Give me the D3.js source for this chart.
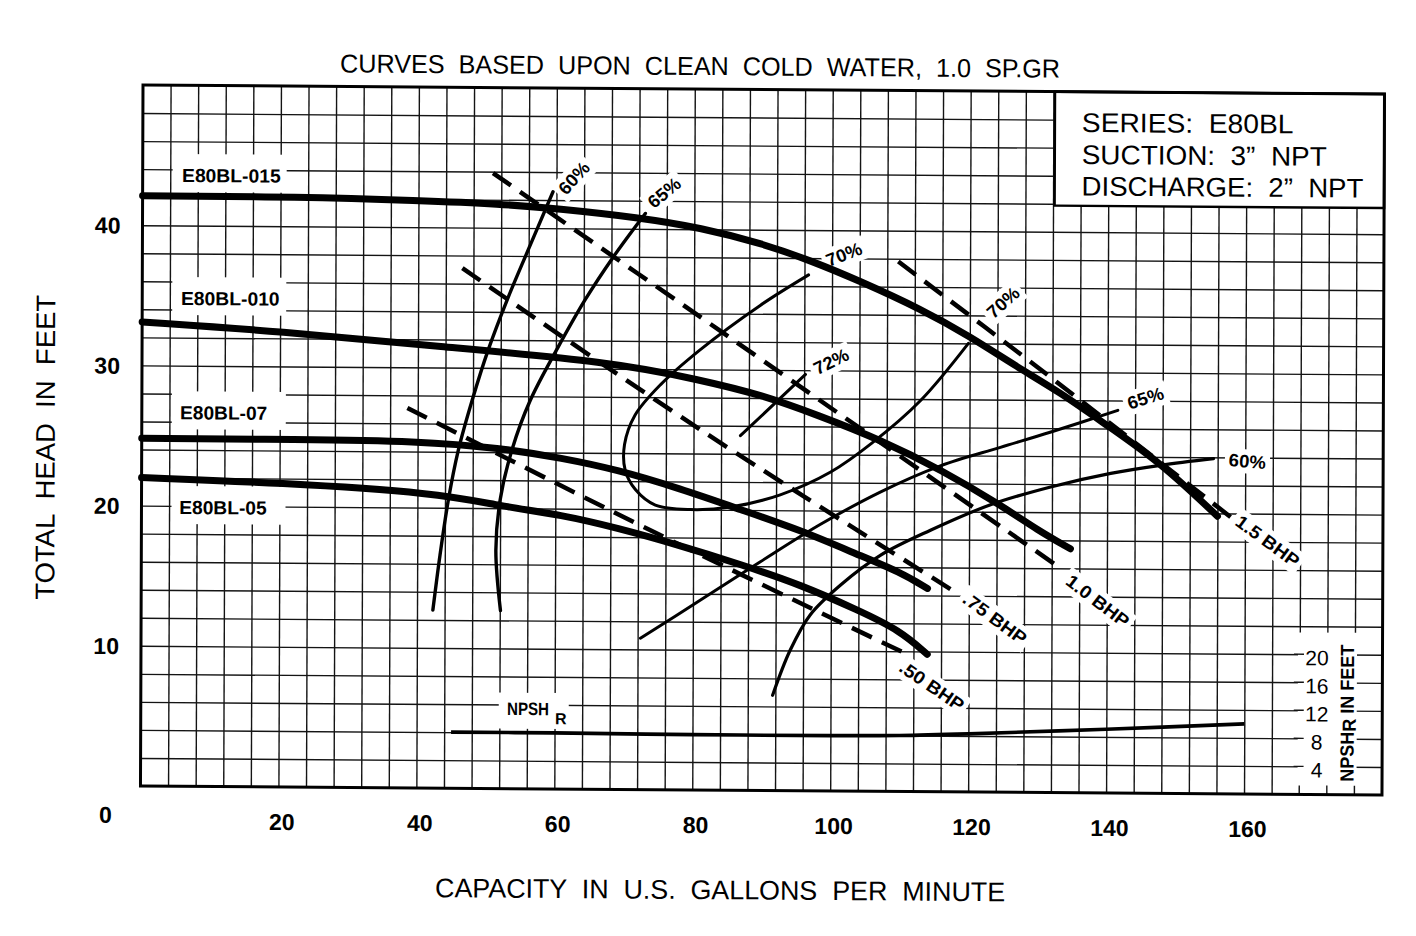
<!DOCTYPE html>
<html><head><meta charset="utf-8">
<script src="https://cdn.jsdelivr.net/npm/d3@7"></script>
<style>
html,body{margin:0;padding:0;background:#fff;}
svg{display:block;}
text{font-family:"Liberation Sans",Arial,Helvetica,sans-serif;fill:#000;white-space:pre;}
</style></head><body>
<svg id="chart" width="1416" height="936"></svg>
<script>
// ---------------- DATA ----------------
const xTickLabels = [20, 40, 60, 80, 100, 120, 140, 160];
const yTickLabels = [10, 20, 30, 40];
const npshTickLabels = [4, 8, 12, 16, 20];

const modelNames = ["E80BL-015", "E80BL-010", "E80BL-07", "E80BL-05"];

// head-capacity curves (gpm, feet)
const gpm015  = [0, 23, 40, 52, 60, 72, 81, 90, 97, 104, 113, 120, 127, 133, 140, 147.7, 156];
const head015 = [42.1, 42.1, 41.9, 41.7, 41.4, 40.8, 40.1, 39.0, 37.8, 36.4, 34.4, 32.5, 30.3, 28.6, 26.2, 23.6, 19.8];
const gpm010  = [0, 20, 43, 68, 81, 90, 98, 107, 116, 124.5, 130, 134.7];
const head010 = [33.1, 32.5, 31.5, 30.5, 29.25, 28.2, 26.8, 25.1, 22.95, 20.5, 18.7, 17.4];
const gpm07   = [0, 23, 40, 52, 61, 69, 78, 87, 95.5, 104, 110, 114];
const head07  = [24.8, 24.8, 24.75, 24.3, 23.6, 22.8, 21.5, 20.0, 18.6, 16.85, 15.65, 14.5];
const gpm05   = [0, 20, 43, 52, 61, 69, 78, 87, 95.6, 104, 110, 114];
const head05  = [22.0, 21.7, 21.05, 20.15, 19.55, 18.65, 17.45, 16.1, 14.7, 12.9, 11.5, 9.8];

// efficiency contours
const effNames = ["60%", "65%", "70%", "70%", "72%", "65%", "60%"];
const eff60LeftGpm  = [42.3, 43.3, 44.5, 45.9, 47.9, 50.2, 52.9, 55.9, 59.5];
const eff60LeftHead = [12.7, 16.6, 20.6, 24.1, 27.7, 31.3, 34.85, 38.4, 42.6];
const eff65LeftGpm  = [52.1, 51.4, 52.0, 53.7, 56.3, 60.3, 64.2, 68.3, 72.9];
const eff65LeftHead = [12.7, 17.0, 20.6, 24.2, 27.7, 31.5, 34.9, 38.0, 41.1];
const eff70Gpm  = [96.6, 89.6, 80.9, 75.2, 71.5, 70.0, 70.1, 71.6, 74.5, 79.6, 85.4, 92.6, 99.9, 105.9, 112.9, 119.8];
const eff70Head = [36.8, 34.6, 31.4, 28.9, 26.7, 24.6, 22.8, 21.4, 20.3, 20.0, 20.2, 21.1, 22.75, 24.85, 27.9, 32.0];
const eff72Gpm  = [86.8, 96.2];
const eff72Head = [25.3, 29.7];
const eff65RightGpm  = [72.4, 81.1, 89.7, 98.4, 107.1, 115.8, 124.5, 131.7, 141.5];
const eff65RightHead = [10.8, 13.55, 16.3, 19.0, 21.35, 23.25, 24.6, 25.7, 27.3];
const eff60RightGpm  = [91.6, 94.1, 97.0, 101.4, 107.2, 114.4, 123.1, 131.8, 140.5, 147.7, 155.4];
const eff60RightHead = [6.8, 10.0, 12.55, 14.7, 16.85, 18.65, 20.5, 21.8, 22.8, 23.4, 23.9];

// brake horsepower lines
const bhpNames = ["1.5 BHP", "1.0 BHP", ".75 BHP", ".50 BHP"];
const bhp150Gpm = [109.6, 129.8, 158.3], bhp150Head = [37.8, 30.35, 19.6];
const bhp100Gpm = [50.8, 84.3, 133.6],   bhp100Head = [43.9, 32.6, 15.9];
const bhp075Gpm = [46.4, 81.0, 118.2],   bhp075Head = [37.1, 25.7, 14.2];
const bhp050Gpm = [38.5, 73.8, 110.4],   bhp050Head = [27.1, 18.5, 9.95];

// NPSH required (feet on right scale)
const npshGpm = [45, 60, 80, 100, 110, 120, 140, 160];
const npshFt  = [8.0, 8.0, 7.9, 7.9, 8.0, 8.3, 9.1, 10.0];

const titleText = "CURVES  BASED  UPON  CLEAN  COLD  WATER,  1.0  SP.GR";
const legendLines = ["SERIES:  E80BL", "SUCTION:  3\u201D  NPT", "DISCHARGE:  2\u201D  NPT"];

// ---------------- LAYOUT ----------------
const svg = d3.select("#chart");
svg.append("rect").attr("width", 1416).attr("height", 936).attr("fill", "#fff");
// slight scan skew of the original sheet
const root = svg.append("g").attr("transform", "matrix(1,0.00726,-0.0036,1,0.306,-1.038)");

const P = {left: 143, right: 1384.5, top: 85, bottom: 786};
const x = d3.scaleLinear().domain([0, 180]).range([P.left, P.right]);
const y = d3.scaleLinear().domain([0, 50]).range([P.bottom, P.top]);
const yN = d3.scaleLinear().domain([0, 100]).range([P.bottom, P.top]); // NPSH scale (2x head)

// grid via axes
const gridX = root.append("g").attr("transform", `translate(0,${P.bottom})`)
  .call(d3.axisBottom(x).tickValues(d3.range(4, 180, 4)).tickSize(-(P.bottom - P.top)).tickFormat(""));
const gridY = root.append("g").attr("transform", `translate(${P.left},0)`)
  .call(d3.axisLeft(y).tickValues(d3.range(2, 50, 2)).tickSize(-(P.right - P.left)).tickFormat(""));
[gridX, gridY].forEach(g => {
  g.select(".domain").remove();
  g.selectAll("line").attr("stroke", "#141414").attr("stroke-width", 1.4);
});

// white knock-outs
const knock = root.append("g");
knock.append("rect").attr("x", 1055).attr("y", P.top).attr("width", P.right - 1055).attr("height", 199 - P.top)
  .attr("fill", "#fff").attr("stroke", "#000").attr("stroke-width", 2.5);
knock.append("rect").attr("x", 1300).attr("y", 624).attr("width", 59).attr("height", P.bottom - 624).attr("fill", "#fff");

const modelBase = [
  {gx: 182.4, by: 181.7, w: 98.6},
  {gx: 181.8, by: 304.7, w: 98.6},
  {gx: 181.2, by: 419.0, w: 87.3},
  {gx: 180.8, by: 513.7, w: 87.4}
];
modelBase.forEach(m => {
  knock.append("rect").attr("x", 173).attr("y", m.by - 28).attr("width", 114).attr("height", 38).attr("fill", "#fff");
});
knock.append("rect").attr("x", 501).attr("y", 690).attr("width", 70).attr("height", 36).attr("fill", "#fff");

// rotated labels helper (placed in data units)
const labelsG = root.append("g");
function rotLabel(txt, g, h, rot, size, len) {
  const grp = labelsG.append("g").attr("transform", `translate(${x(g)},${y(h)}) rotate(${rot})`);
  const t = grp.append("text").attr("text-anchor", "middle").attr("dy", "0.36em")
    .attr("font-size", size).attr("font-weight", "bold").text(txt);
  if (len) t.attr("textLength", len).attr("lengthAdjust", "spacingAndGlyphs");
  const bb = t.node().getBBox();
  grp.insert("rect", "text").attr("x", bb.x - 4).attr("y", bb.y - 2).attr("width", bb.width + 8).attr("height", bb.height + 4).attr("fill", "#fff");
}
const effPos = [
  [62.5, 43.6, -48], [75.6, 42.6, -40], [101.7, 38.3, -22], [124.8, 34.95, -42],
  [99.9, 30.65, -27], [145.5, 28.2, -18], [160.3, 23.75, 4]
];
effNames.forEach((n, i) => rotLabel(n, effPos[i][0], effPos[i][1], effPos[i][2], 18, 37));
const bhpPos = [[163.3, 18.06, 36], [138.7, 13.7, 37], [123.8, 12.4, 36], [114.7, 7.55, 34]];
bhpNames.forEach((n, i) => rotLabel(n, bhpPos[i][0], bhpPos[i][1], bhpPos[i][2], 18, 74));

// bottom ticks in NPSH region and short side ticks
root.append("g").selectAll("line").data([168, 172, 176]).join("line")
  .attr("x1", d => x(d)).attr("x2", d => x(d)).attr("y1", P.bottom).attr("y2", P.bottom - 9)
  .attr("stroke", "#141414").attr("stroke-width", 1.4);
root.append("g").selectAll("line").data(npshTickLabels).join("line")
  .attr("x1", 1296).attr("x2", 1306).attr("y1", d => yN(d)).attr("y2", d => yN(d))
  .attr("stroke", "#141414").attr("stroke-width", 1.4);

// ---------------- CURVES ----------------
const lineSmooth = d3.line().x(d => x(d[0])).y(d => y(d[1])).curve(d3.curveBasis);
const line = d3.line().x(d => x(d[0])).y(d => y(d[1])).curve(d3.curveCatmullRom.alpha(0.5));
const lineN = d3.line().x(d => x(d[0])).y(d => yN(d[1])).curve(d3.curveCatmullRom.alpha(0.5));
const curves = root.append("g").attr("fill", "none").attr("stroke", "#000");

[[eff60LeftGpm, eff60LeftHead, 3.4], [eff65LeftGpm, eff65LeftHead, 3.4], [eff70Gpm, eff70Head, 3],
 [eff72Gpm, eff72Head, 3], [eff65RightGpm, eff65RightHead, 3], [eff60RightGpm, eff60RightHead, 3.2]]
  .forEach(([g, h, w]) => curves.append("path").attr("d", line(d3.zip(g, h))).attr("stroke-width", w).attr("stroke-linecap", "round"));

[[bhp150Gpm, bhp150Head], [bhp100Gpm, bhp100Head], [bhp075Gpm, bhp075Head], [bhp050Gpm, bhp050Head]]
  .forEach(([g, h]) => curves.append("path").attr("d", line(d3.zip(g, h)))
    .attr("stroke-width", 4.5).attr("stroke-dasharray", "22 11"));

[[gpm015, head015], [gpm010, head010], [gpm07, head07], [gpm05, head05]]
  .forEach(([g, h]) => curves.append("path").attr("d", lineSmooth(d3.zip(g, h))).attr("stroke-width", 7).attr("stroke-linecap", "round"));

curves.append("path").attr("d", lineN(d3.zip(npshGpm, npshFt))).attr("stroke-width", 3.6);

root.append("rect").attr("x", P.left).attr("y", P.top).attr("width", P.right - P.left).attr("height", P.bottom - P.top)
  .attr("fill", "none").attr("stroke", "#000").attr("stroke-width", 3);

// ---------------- TEXT ----------------
const T = root.append("g");
modelNames.forEach((n, i) => {
  T.append("text").attr("x", modelBase[i].gx).attr("y", modelBase[i].by).attr("font-size", 19).attr("font-weight", "bold")
    .attr("textLength", modelBase[i].w).attr("lengthAdjust", "spacingAndGlyphs").text(n);
});
// NPSH_R
T.append("text").attr("x", x(53.1)).attr("y", y(5.26)).attr("font-size", 18).attr("font-weight", "bold")
  .attr("textLength", 42).attr("lengthAdjust", "spacingAndGlyphs").text("NPSH");
T.append("text").attr("x", x(53.1) + 48).attr("y", y(5.26) + 9).attr("font-size", 16).attr("font-weight", "bold").text("R");

// axes tick labels
const xAx = root.append("g").attr("transform", `translate(3,${P.bottom})`)
  .call(d3.axisBottom(x).tickValues(xTickLabels).tickSize(0).tickPadding(0));
xAx.select(".domain").remove();
xAx.selectAll("text").attr("y", 43).attr("dy", 0).attr("font-size", 23).attr("font-weight", "bold")
  .attr("font-family", "Liberation Sans, Arial, sans-serif");
const yAx = root.append("g").attr("transform", `translate(121,0)`)
  .call(d3.axisLeft(y).tickValues(yTickLabels).tickSize(0).tickPadding(0));
yAx.select(".domain").remove();
yAx.selectAll("text").attr("x", 0).attr("dy", 8).attr("font-size", 23).attr("font-weight", "bold")
  .attr("font-family", "Liberation Sans, Arial, sans-serif");
T.append("text").attr("x", 108).attr("y", 823).attr("text-anchor", "middle").attr("font-size", 23).attr("font-weight", "bold").text("0");

const nAx = root.append("g").attr("transform", `translate(1319,0)`)
  .call(d3.axisRight(yN).tickValues(npshTickLabels).tickSize(0).tickPadding(0));
nAx.select(".domain").remove();
nAx.selectAll("text").attr("x", 0).attr("dy", 10.5).attr("text-anchor", "middle").attr("font-size", 21)
  .attr("font-family", "Liberation Sans, Arial, sans-serif");
const nt = T.append("text").attr("transform", "translate(1356,704.5) rotate(-90)").attr("text-anchor", "middle")
  .attr("font-size", 19).attr("font-weight", "bold").attr("textLength", 137).attr("lengthAdjust", "spacingAndGlyphs");
nt.append("tspan").text("NPSH");
nt.append("tspan").text("R").attr("dy", 2);
nt.append("tspan").text(" IN FEET").attr("dy", -2);

const legY = [125.1, 157.2, 188.7], legW = [211.6, 245, 281.6];
legendLines.forEach((s, i) => T.append("text").attr("x", 1082).attr("y", legY[i]).attr("font-size", 27)
  .attr("textLength", legW[i]).attr("lengthAdjust", "spacingAndGlyphs").text(s));

T.append("text").attr("x", 700).attr("y", 71).attr("text-anchor", "middle").attr("font-size", 26)
  .attr("textLength", 720).attr("lengthAdjust", "spacingAndGlyphs").text(titleText);
T.append("text").attr("x", 723).attr("y", 895).attr("text-anchor", "middle").attr("font-size", 27)
  .attr("textLength", 570).attr("lengthAdjust", "spacingAndGlyphs").text("CAPACITY  IN  U.S.  GALLONS  PER  MINUTE");
T.append("text").attr("transform", "translate(56,448) rotate(-90)").attr("text-anchor", "middle").attr("font-size", 27)
  .attr("textLength", 305).attr("lengthAdjust", "spacingAndGlyphs").text("TOTAL  HEAD  IN  FEET");
</script>
</body></html>
